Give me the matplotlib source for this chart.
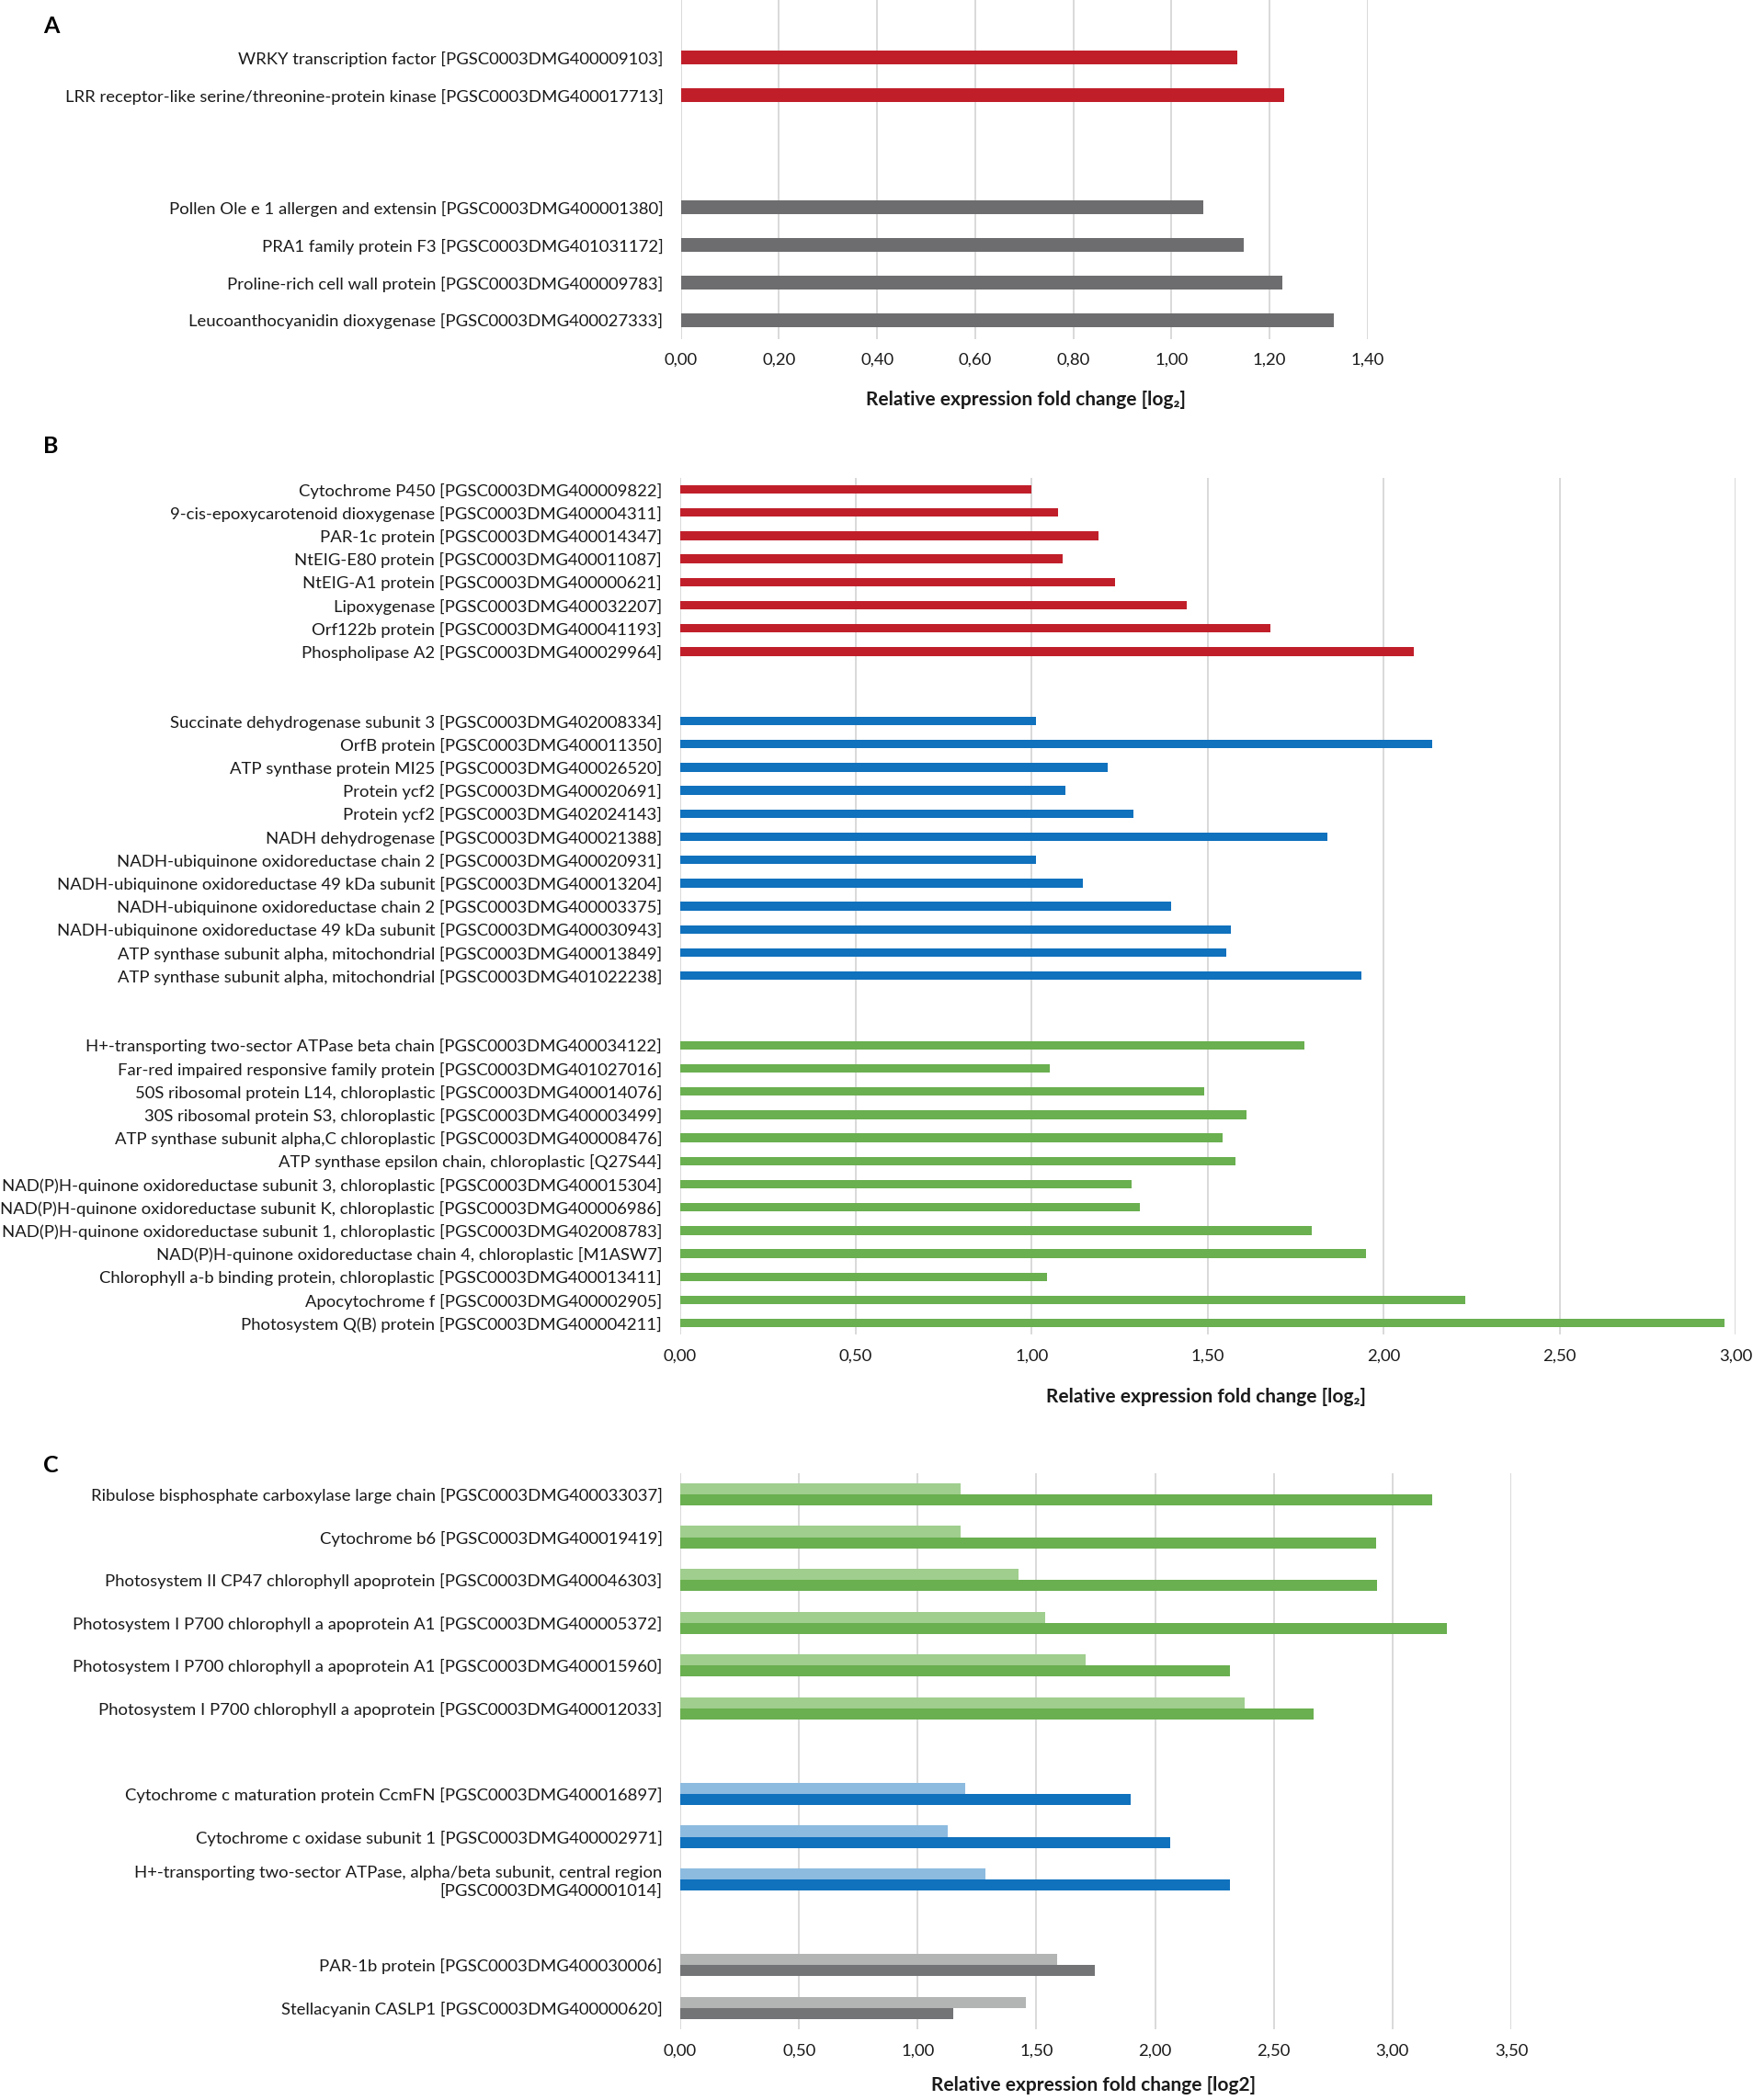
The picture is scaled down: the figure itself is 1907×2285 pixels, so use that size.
import numpy as np
import matplotlib
matplotlib.use('Agg')
from matplotlib import pyplot as plt
from matplotlib.ticker import FuncFormatter, MultipleLocator

plt.rcParams['font.family'] = ['Lato', 'DejaVu Sans']

# ---------------- data ----------------
# panel A
a_red_labels = ['WRKY transcription factor [PGSC0003DMG400009103]',
                'LRR receptor-like serine/threonine-protein kinase [PGSC0003DMG400017713]']
a_red_vals = [1.135, 1.231]
a_grey_labels = ['Pollen Ole e 1 allergen and extensin [PGSC0003DMG400001380]',
                 'PRA1 family protein F3 [PGSC0003DMG401031172]',
                 'Proline-rich cell wall protein [PGSC0003DMG400009783]',
                 'Leucoanthocyanidin dioxygenase [PGSC0003DMG400027333]']
a_grey_vals = [1.066, 1.147, 1.226, 1.331]

# panel B
b_red_labels = ['Cytochrome P450 [PGSC0003DMG400009822]',
                '9-cis-epoxycarotenoid dioxygenase [PGSC0003DMG400004311]',
                'PAR-1c protein [PGSC0003DMG400014347]',
                'NtEIG-E80 protein [PGSC0003DMG400011087]',
                'NtEIG-A1 protein [PGSC0003DMG400000621]',
                'Lipoxygenase [PGSC0003DMG400032207]',
                'Orf122b protein [PGSC0003DMG400041193]',
                'Phospholipase A2 [PGSC0003DMG400029964]']
b_red_vals = [1.00, 1.076, 1.19, 1.089, 1.238, 1.441, 1.679, 2.086]
b_blue_labels = ['Succinate dehydrogenase subunit 3 [PGSC0003DMG402008334]',
                 'OrfB protein [PGSC0003DMG400011350]',
                 'ATP synthase protein MI25 [PGSC0003DMG400026520]',
                 'Protein ycf2 [PGSC0003DMG400020691]',
                 'Protein ycf2 [PGSC0003DMG402024143]',
                 'NADH dehydrogenase [PGSC0003DMG400021388]',
                 'NADH-ubiquinone oxidoreductase chain 2 [PGSC0003DMG400020931]',
                 'NADH-ubiquinone oxidoreductase 49 kDa subunit [PGSC0003DMG400013204]',
                 'NADH-ubiquinone oxidoreductase chain 2 [PGSC0003DMG400003375]',
                 'NADH-ubiquinone oxidoreductase 49 kDa subunit [PGSC0003DMG400030943]',
                 'ATP synthase subunit alpha, mitochondrial [PGSC0003DMG400013849]',
                 'ATP synthase subunit alpha, mitochondrial [PGSC0003DMG401022238]']
b_blue_vals = [1.013, 2.137, 1.216, 1.095, 1.289, 1.841, 1.013, 1.146, 1.397, 1.565, 1.552, 1.937]
b_green_labels = ['H+-transporting two-sector ATPase beta chain [PGSC0003DMG400034122]',
                  'Far-red impaired responsive family protein [PGSC0003DMG401027016]',
                  '50S ribosomal protein L14, chloroplastic [PGSC0003DMG400014076]',
                  '30S ribosomal protein S3, chloroplastic [PGSC0003DMG400003499]',
                  'ATP synthase subunit alpha,C chloroplastic [PGSC0003DMG400008476]',
                  'ATP synthase epsilon chain, chloroplastic [Q27S44]',
                  'NAD(P)H-quinone oxidoreductase subunit 3, chloroplastic [PGSC0003DMG400015304]',
                  'NAD(P)H-quinone oxidoreductase subunit K, chloroplastic [PGSC0003DMG400006986]',
                  'NAD(P)H-quinone oxidoreductase subunit 1, chloroplastic [PGSC0003DMG402008783]',
                  'NAD(P)H-quinone oxidoreductase chain 4, chloroplastic [M1ASW7]',
                  'Chlorophyll a-b binding protein, chloroplastic [PGSC0003DMG400013411]',
                  'Apocytochrome f [PGSC0003DMG400002905]',
                  'Photosystem Q(B) protein [PGSC0003DMG400004211]']
b_green_vals = [1.775, 1.051, 1.489, 1.61, 1.543, 1.578, 1.283, 1.308, 1.797, 1.949, 1.044, 2.232, 2.968]

# panel C (two series: light = first, dark = second)
c_green_labels = ['Ribulose bisphosphate carboxylase large chain [PGSC0003DMG400033037]',
                  'Cytochrome b6 [PGSC0003DMG400019419]',
                  'Photosystem II CP47 chlorophyll apoprotein [PGSC0003DMG400046303]',
                  'Photosystem I P700 chlorophyll a apoprotein A1 [PGSC0003DMG400005372]',
                  'Photosystem I P700 chlorophyll a apoprotein A1 [PGSC0003DMG400015960]',
                  'Photosystem I P700 chlorophyll a apoprotein [PGSC0003DMG400012033]']
c_green_light = [1.181, 1.181, 1.425, 1.537, 1.706, 2.376]
c_green_dark = [3.168, 2.929, 2.933, 3.229, 2.315, 2.666]
c_blue_labels = ['Cytochrome c maturation protein CcmFN [PGSC0003DMG400016897]',
                 'Cytochrome c oxidase subunit 1 [PGSC0003DMG400002971]',
                 'H+-transporting two-sector ATPase, alpha/beta subunit, central region\n[PGSC0003DMG400001014]']
c_blue_light = [1.200, 1.125, 1.284]
c_blue_dark = [1.898, 2.062, 2.315]
c_grey_labels = ['PAR-1b protein [PGSC0003DMG400030006]',
                 'Stellacyanin CASLP1 [PGSC0003DMG400000620]']
c_grey_light = [1.589, 1.457]
c_grey_dark = [1.748, 1.148]

RED = '#C01F2A'
GREY = '#6D6C6E'
BLUE = '#1071BD'
GREEN = '#6AAF50'
LGREEN = '#A0CE8E'
LBLUE = '#8DBBE0'
LGREY = '#B3B4B4'
DGREY = '#727476'

W, H = 1907, 2285
fig = plt.figure(figsize=(W / 100, H / 100), dpi=100)

LABEL_FS = 13.3
TITLE_FS = 15
TEXT_C = '#1a1a1a'


def add_ax(x0, x1, y0, y1):
    return fig.add_axes([x0 / W, 1 - y1 / H, (x1 - x0) / W, (y1 - y0) / H])


def positions(sizes, gap):
    pos = []
    start = 0
    for n in sizes:
        pos.append(np.arange(start, start + n))
        start += n + gap
    return pos


def style(ax, xmax, step, ylim):
    ax.set_xlim(0, xmax)
    ax.set_ylim(*ylim)
    ax.xaxis.set_major_locator(MultipleLocator(step))
    ax.xaxis.set_major_formatter(FuncFormatter(lambda v, p: ('%.2f' % v).replace('.', ',')))
    ax.grid(axis='x', color='#D9D9D9', linewidth=1.4)
    ax.set_axisbelow(True)
    for s in ax.spines.values():
        s.set_visible(False)
    ax.tick_params(axis='both', length=0, labelsize=LABEL_FS, colors=TEXT_C)
    ax.tick_params(axis='x', pad=11)
    ax.tick_params(axis='y', pad=14)


# ---- A ----
axA = add_ax(740.7, 1487.6, 0, 368.7)
pA = positions([2, 4], 2)
axA.barh(pA[0], a_red_vals, height=0.37, color=RED)
axA.barh(pA[1], a_grey_vals, height=0.37, color=GREY)
axA.set_yticks(np.concatenate(pA))
axA.set_yticklabels(a_red_labels + a_grey_labels)
style(axA, 1.4, 0.2, (7.5, -1.54))

# ---- B ----
axB = add_ax(739.5, 1888, 519.9, 1452.3)
pB = positions([8, 12, 13], 2)
axB.barh(pB[0], b_red_vals, height=0.38, color=RED)
axB.barh(pB[1], b_blue_vals, height=0.38, color=BLUE)
axB.barh(pB[2], b_green_vals, height=0.38, color=GREEN)
axB.set_yticks(np.concatenate(pB))
axB.set_yticklabels(b_red_labels + b_blue_labels + b_green_labels)
style(axB, 3.0, 0.5, (36.5, -0.5))

# ---- C ----
axC = add_ax(740, 1644, 1602.8, 2208)
pC = positions([6, 3, 2], 1)
bh = 0.262
for p, lv, dv, lc, dc in [(pC[0], c_green_light, c_green_dark, LGREEN, GREEN),
                          (pC[1], c_blue_light, c_blue_dark, LBLUE, BLUE),
                          (pC[2], c_grey_light, c_grey_dark, LGREY, DGREY)]:
    axC.barh(p - bh / 2, lv, height=bh, color=lc)
    axC.barh(p + bh / 2, dv, height=bh, color=dc)
axC.set_yticks(np.concatenate(pC))
axC.set_yticklabels(c_green_labels + c_blue_labels + c_grey_labels)
style(axC, 3.5, 0.5, (12.5, -0.5))

# axis titles and panel letters
fig.text(1116 / W, 1 - 435 / H, 'Relative expression fold change [log\u2082]',
         ha='center', va='center', fontsize=TITLE_FS, fontweight='bold', color=TEXT_C)
fig.text(1312 / W, 1 - 1520 / H, 'Relative expression fold change [log\u2082]',
         ha='center', va='center', fontsize=TITLE_FS, fontweight='bold', color=TEXT_C)
fig.text(1190 / W, 1 - 2269 / H, 'Relative expression fold change [log2]',
         ha='center', va='center', fontsize=TITLE_FS, fontweight='bold', color=TEXT_C)
for lab, y in [('A', 28), ('B', 486), ('C', 1595)]:
    fig.text(47 / W, 1 - y / H, lab, ha='left', va='center', fontsize=18, fontweight='bold')

fig.savefig('out.png', dpi=100, facecolor='white')
